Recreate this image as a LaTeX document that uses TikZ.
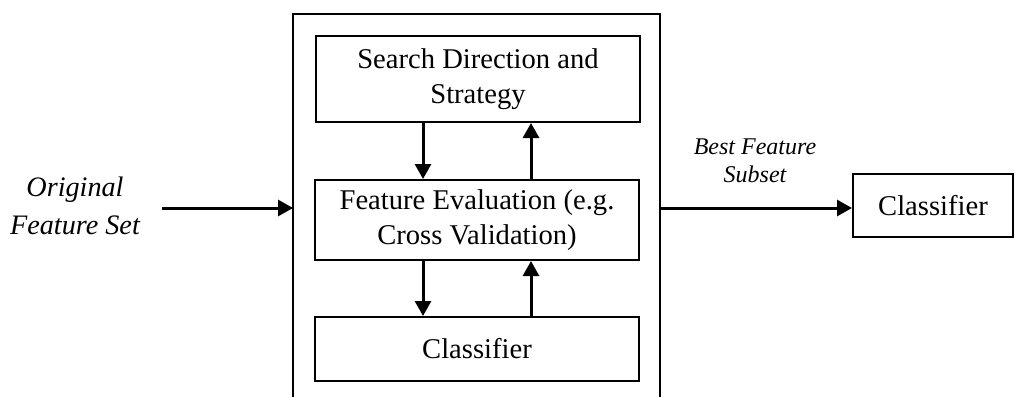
\documentclass[tikz,border=0pt]{standalone}
\usepackage{fontspec}
\setmainfont{Liberation Serif}
\usetikzlibrary{arrows.meta}
\begin{document}
\begin{tikzpicture}[x=0.5pt,y=-0.5pt,
  box/.style={draw, line width=1pt, inner sep=0pt, align=center,
    font=\fontsize{14.3}{17.5}\selectfont},
  lbl/.style={align=center, inner sep=0pt},
  arr/.style={line width=1.5pt, -{Triangle[length=7.5pt,width=8pt]}}]
\useasboundingbox (0,0) rectangle (1015,396);
% enclosing frame, open at the bottom
\coordinate (frameBL) at (293,400);
\coordinate (frameTL) at (293,14);
\coordinate (frameTR) at (660,14);
\coordinate (frameBR) at (660,400);
\draw[line width=1pt] (frameBL) -- (frameTL) -- (frameTR) -- (frameBR);
% inner blocks
\node[box, minimum width=162pt, minimum height=43pt] (search) at (478,79)
  {Search Direction and\\Strategy};
\node[box, minimum width=162pt, minimum height=40pt] (eval) at (477,220)
  {Feature Evaluation (e.g.\\Cross Validation)};
\node[box, minimum width=162pt, minimum height=32pt] (clsin) at (477,349)
  {Classifier};
% right-hand classifier
\node[box, minimum width=80pt, minimum height=31.5pt] (clsout) at (933,205.5)
  {Classifier};
% loops between the inner blocks
\coordinate (dn) at (423,0);
\coordinate (up) at (531,0);
\draw[arr] (search.south -| dn) -- (eval.north -| dn);
\draw[arr] (eval.north -| up) -- (search.south -| up);
\draw[arr] (eval.south -| dn) -- (clsin.north -| dn);
\draw[arr] (clsin.north -| up) -- (eval.south -| up);
% input and output
\coordinate (inStart) at (162,208);
\coordinate (inEnd) at (293,208);
\coordinate (outStart) at (660,208);
\draw[arr] (inStart) -- (inEnd);
\draw[arr] (outStart) -- (outStart -| clsout.west);
\node[lbl, font=\fontsize{14.1}{19}\selectfont\itshape] (origlbl) at (75,206)
  {Original\\Feature Set};
\node[lbl, font=\fontsize{12}{14}\selectfont\itshape] (bestlbl) at (755,161)
  {Best Feature\\Subset};
\end{tikzpicture}
\end{document}
